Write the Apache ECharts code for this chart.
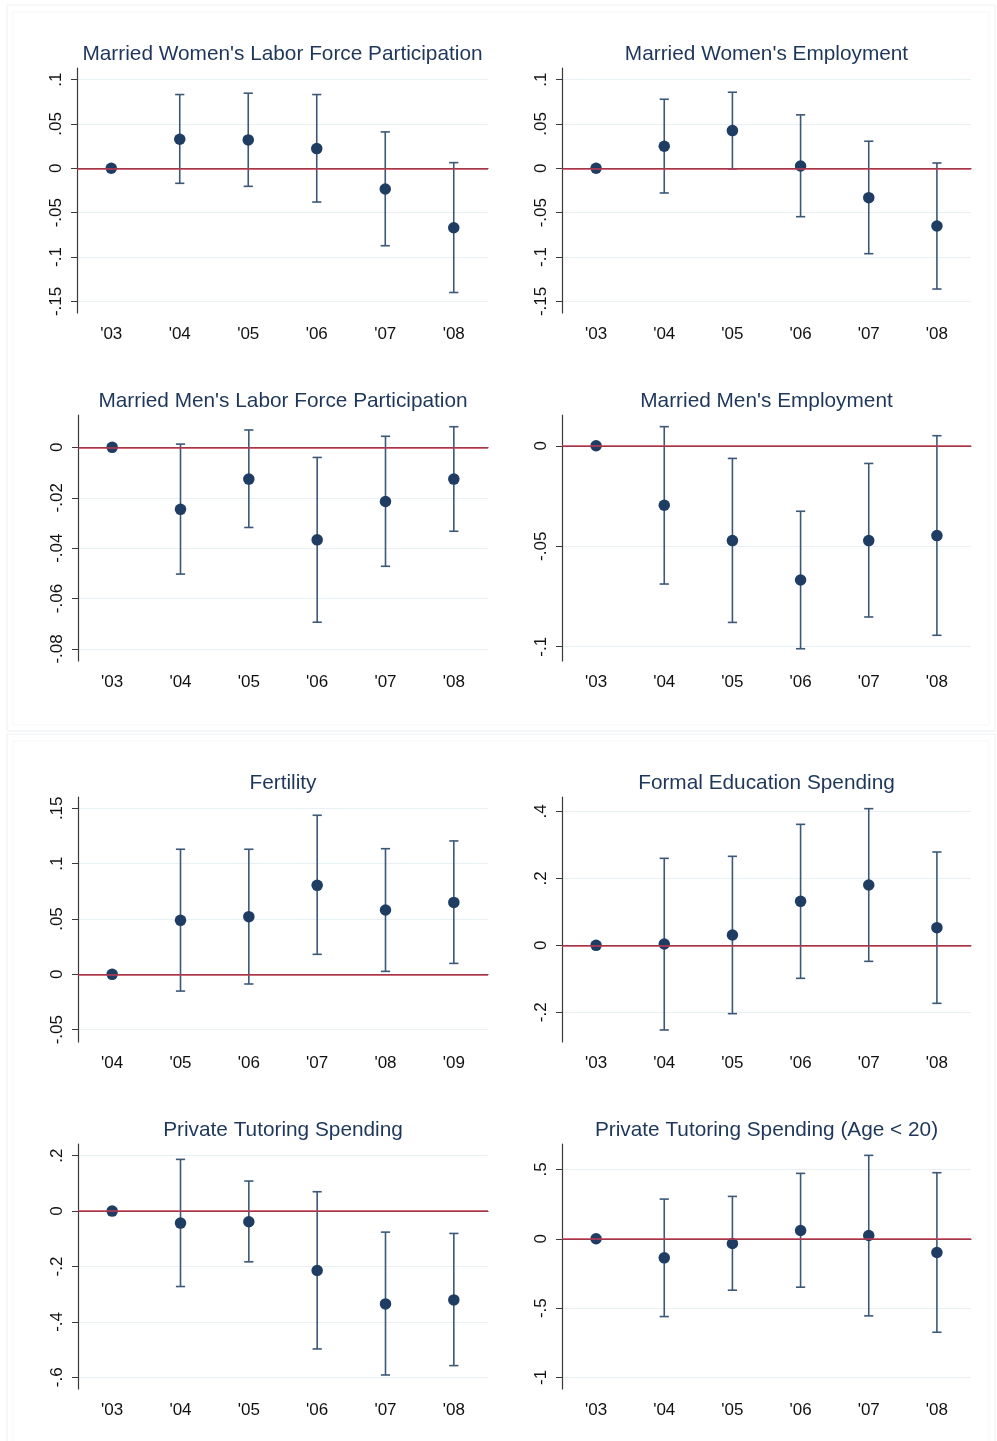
<!DOCTYPE html>
<html>
<head>
<meta charset="utf-8">
<title>Event-study estimates</title>
<script src="https://cdn.jsdelivr.net/npm/echarts@6/dist/echarts.min.js"></script>
<style>
  html, body { margin: 0; padding: 0; background: #ffffff; }
  #chart { width: 997px; height: 1441px; }
</style>
</head>
<body>
<div id="chart"></div>
<script>
// Survey years (base year first)
const yearsA = ["'03", "'04", "'05", "'06", "'07", "'08"];
const yearsB = ["'04", "'05", "'06", "'07", "'08", "'09"];

// Married women's labor force participation
const wLfpEst = [0, 0.0327, 0.0320, 0.0222, -0.0233, -0.0669];
const wLfpLo  = [null, -0.0169, -0.0203, -0.0380, -0.0872, -0.1399];
const wLfpHi  = [null, 0.0831, 0.0846, 0.0831, 0.0410, 0.0064];

// Married women's employment
const wEmpEst = [0, 0.0248, 0.0425, 0.0026, -0.0331, -0.0650];
const wEmpLo  = [null, -0.0278, -0.0008, -0.0545, -0.0962, -0.1360];
const wEmpHi  = [null, 0.0778, 0.0857, 0.0602, 0.0305, 0.0060];

// Married men's labor force participation
const mLfpEst = [0, -0.0246, -0.0126, -0.0367, -0.0215, -0.0126];
const mLfpLo  = [null, -0.0503, -0.0318, -0.0694, -0.0472, -0.0333];
const mLfpHi  = [null, 0.0013, 0.0069, -0.0040, 0.0044, 0.0082];

// Married men's employment
const mEmpEst = [0, -0.0296, -0.0472, -0.0668, -0.0472, -0.0447];
const mEmpLo  = [null, -0.0688, -0.0879, -0.1010, -0.0852, -0.0943];
const mEmpHi  = [null, 0.0095, -0.0063, -0.0326, -0.0088, 0.0050];

// Fertility
const fertEst = [0, 0.0488, 0.0521, 0.0804, 0.0581, 0.0650];
const fertLo  = [null, -0.0151, -0.0087, 0.0181, 0.0027, 0.0099];
const fertHi  = [null, 0.1130, 0.1130, 0.1437, 0.1135, 0.1205];

// Formal education spending
const eduEst = [0, 0.0040, 0.0308, 0.1313, 0.1801, 0.0527];
const eduLo  = [null, -0.2527, -0.2040, -0.0985, -0.0478, -0.1731];
const eduHi  = [null, 0.2597, 0.2657, 0.3612, 0.4080, 0.2786];

// Private tutoring spending
const tutEst = [0, -0.0434, -0.0386, -0.2145, -0.3350, -0.3205];
const tutLo  = [null, -0.2723, -0.1831, -0.4976, -0.5916, -0.5578];
const tutHi  = [null, 0.1867, 0.1084, 0.0699, -0.0759, -0.0807];

// Private tutoring spending, children under 20
const tut20Est = [0, -0.1372, -0.0337, 0.0602, 0.0241, -0.0987];
const tut20Lo  = [null, -0.5609, -0.3707, -0.3490, -0.5560, -0.6740];
const tut20Hi  = [null, 0.2864, 0.3057, 0.4718, 0.6018, 0.4766];

// Y-axis tick values per panel
const ticksW   = [-0.15, -0.1, -0.05, 0, 0.05, 0.1];
const ticksMl  = [-0.08, -0.06, -0.04, -0.02, 0];
const ticksMe  = [-0.1, -0.05, 0];
const ticksF   = [-0.05, 0, 0.05, 0.1, 0.15];
const ticksE   = [-0.2, 0, 0.2, 0.4];
const ticksT   = [-0.6, -0.4, -0.2, 0, 0.2];
const ticksT20 = [-1, -0.5, 0, 0.5];

const panels = [
  { title: "Married Women's Labor Force Participation", cats: yearsA, est: wLfpEst, lo: wLfpLo, hi: wLfpHi, ticks: ticksW, min: -0.163, max: 0.113,
    grid: { left: 77, top: 68, width: 411, height: 245 } },
  { title: "Married Women's Employment", cats: yearsA, est: wEmpEst, lo: wEmpLo, hi: wEmpHi, ticks: ticksW, min: -0.163, max: 0.113,
    grid: { left: 562, top: 68, width: 409, height: 245 } },
  { title: "Married Men's Labor Force Participation", cats: yearsA, est: mLfpEst, lo: mLfpLo, hi: mLfpHi, ticks: ticksMl, min: -0.0848, max: 0.01285,
    grid: { left: 78, top: 415, width: 410, height: 246 } },
  { title: "Married Men's Employment", cats: yearsA, est: mEmpEst, lo: mEmpLo, hi: mEmpHi, ticks: ticksMe, min: -0.1071, max: 0.0153,
    grid: { left: 562, top: 415, width: 409, height: 246 } },
  { title: "Fertility", cats: yearsB, est: fertEst, lo: fertLo, hi: fertHi, ticks: ticksF, min: -0.0611, max: 0.1602,
    grid: { left: 78, top: 797, width: 410, height: 245 } },
  { title: "Formal Education Spending", cats: yearsA, est: eduEst, lo: eduLo, hi: eduHi, ticks: ticksE, min: -0.2886, max: 0.4428,
    grid: { left: 562, top: 797, width: 409, height: 245 } },
  { title: "Private Tutoring Spending", cats: yearsA, est: tutEst, lo: tutLo, hi: tutHi, ticks: ticksT, min: -0.6422, max: 0.2422,
    grid: { left: 78, top: 1144, width: 410, height: 245 } },
  { title: "Private Tutoring Spending (Age < 20)", cats: yearsA, est: tut20Est, lo: tut20Lo, hi: tut20Hi, ticks: ticksT20, min: -1.0833, max: 0.6837,
    grid: { left: 562, top: 1144, width: 409, height: 245 } }
];

const FONT = '"Liberation Sans", Arial, Helvetica, sans-serif';
const NAVY = '#1f3d63';
const BAR = '#3b5878';
const RED = '#c23a50';
const AXIS = '#3a3a3a';

// Stata-style number labels: drop the leading zero (.05, -.1)
function stataNum(v) {
  const s = String(Math.round(v * 10000) / 10000);
  return s.replace(/^(-?)0\./, '$1.');
}

const titles = [], grids = [], xAxes = [], yAxes = [], series = [];

panels.forEach((p, i) => {
  const g = p.grid;
  grids.push({ left: g.left, top: g.top, width: g.width, height: g.height, containLabel: false });
  titles.push({
    text: p.title,
    left: g.left + g.width / 2 - 5,
    top: g.top - 29,
    textAlign: 'center',
    textStyle: { fontFamily: FONT, fontSize: 20.8, fontWeight: 'normal', color: '#1d365a' }
  });
  xAxes.push({
    type: 'category', gridIndex: i, data: p.cats, boundaryGap: true,
    axisLine: { lineStyle: { color: AXIS, width: 1.2 } },
    axisTick: { alignWithLabel: true, length: 5, lineStyle: { color: AXIS } },
    axisLabel: { fontFamily: FONT, fontSize: 17, color: '#111', margin: 13 },
    splitLine: { show: false }
  });
  yAxes.push({
    type: 'value', gridIndex: i, min: p.min, max: p.max,
    axisLine: { show: true, lineStyle: { color: AXIS, width: 1.2 } },
    axisTick: { show: true, length: 6, customValues: p.ticks, lineStyle: { color: AXIS } },
    axisLabel: { customValues: p.ticks, rotate: 90, margin: 12, fontFamily: FONT, fontSize: 17, color: '#111', formatter: stataNum },
    splitLine: { show: true, lineStyle: { color: '#e9f0f3', width: 1.2 } }
  });

  const bars = [];
  p.lo.forEach((lo, k) => { if (lo !== null) bars.push([k, lo, p.hi[k]]); });

  series.push({
    type: 'custom', xAxisIndex: i, yAxisIndex: i, z: 2,
    data: bars,
    encode: { x: 0, y: [1, 2] },
    renderItem: function (params, api) {
      const top = api.coord([api.value(0), api.value(2)]);
      const bot = api.coord([api.value(0), api.value(1)]);
      const w = 4.6;
      const style = { stroke: BAR, lineWidth: 1.6, fill: null };
      return {
        type: 'group',
        children: [
          { type: 'line', shape: { x1: top[0], y1: top[1], x2: bot[0], y2: bot[1] }, style: style },
          { type: 'line', shape: { x1: top[0] - w, y1: top[1], x2: top[0] + w, y2: top[1] }, style: style },
          { type: 'line', shape: { x1: bot[0] - w, y1: bot[1], x2: bot[0] + w, y2: bot[1] }, style: style }
        ]
      };
    },
    markLine: {
      silent: true, symbol: 'none', label: { show: false },
      lineStyle: { color: RED, width: 1.6, type: 'solid' },
      data: [{ yAxis: 0 }]
    }
  });
  series.push({
    type: 'scatter', xAxisIndex: i, yAxisIndex: i, z: 3,
    symbol: 'circle', symbolSize: 11.5,
    itemStyle: { color: NAVY, opacity: 1 },
    data: p.est
  });
});

const chart = echarts.init(document.getElementById('chart'), null, { renderer: 'canvas' });
chart.setOption({
  backgroundColor: '#ffffff',
  animation: false,
  graphic: [
    { type: 'rect', shape: { x: 7, y: 5, width: 988, height: 726 }, style: { fill: null, stroke: '#edf0f2', lineWidth: 1 }, silent: true },
    { type: 'rect', shape: { x: 13, y: 12, width: 976, height: 713 }, style: { fill: null, stroke: '#f5f7f8', lineWidth: 1 }, silent: true },
    { type: 'rect', shape: { x: 7, y: 734, width: 988, height: 712 }, style: { fill: null, stroke: '#edf0f2', lineWidth: 1 }, silent: true },
    { type: 'rect', shape: { x: 13, y: 741, width: 976, height: 705 }, style: { fill: null, stroke: '#f5f7f8', lineWidth: 1 }, silent: true }
  ],
  title: titles,
  grid: grids,
  xAxis: xAxes,
  yAxis: yAxes,
  series: series
});
</script>
</body>
</html>
